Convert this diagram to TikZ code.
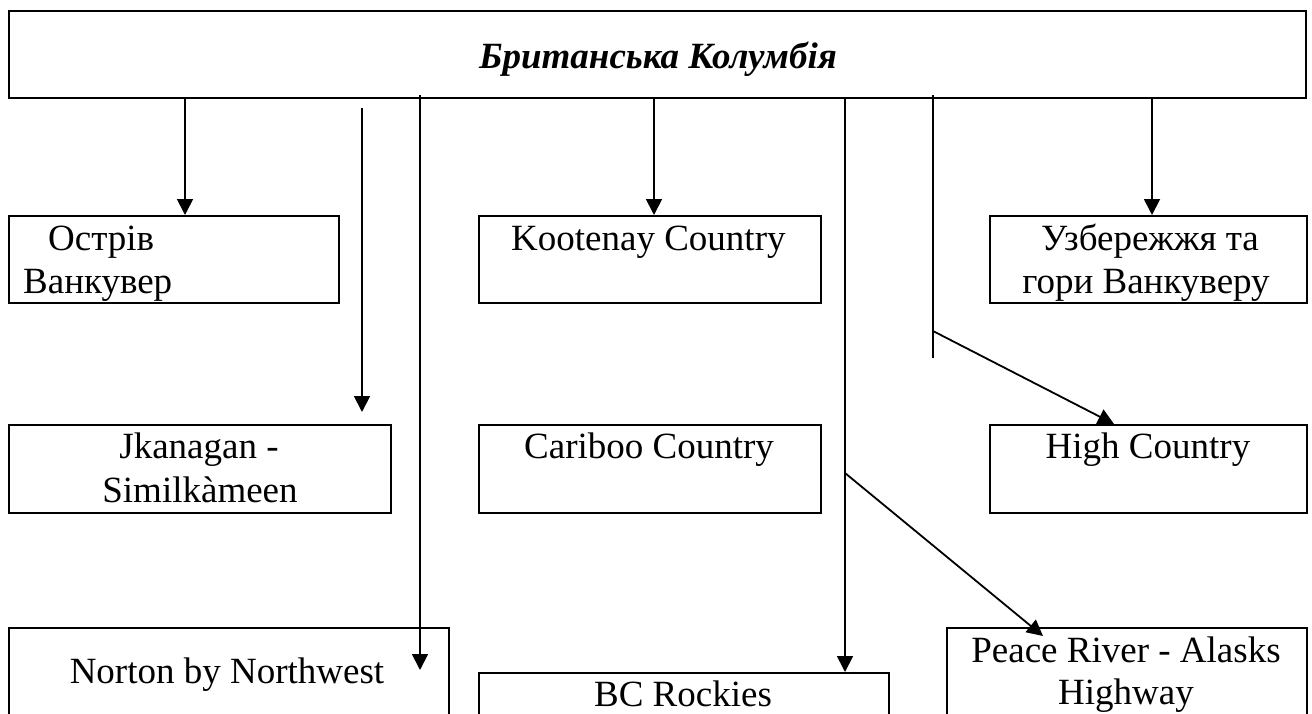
\documentclass[tikz,border=0pt]{standalone}
\usepackage{fontspec}
\setmainfont{Liberation Serif}
\usetikzlibrary{arrows.meta}
\begin{document}
\begin{tikzpicture}[x=1pt,y=-1pt,
  box/.style={draw,line width=2pt,inner sep=0pt,anchor=north west},
  lbl/.style={inner sep=0pt,font=\fontsize{37}{42}\selectfont},
  arr/.style={line width=1.8pt,-{Triangle[width=16pt,length=16pt]}},
  ln/.style={line width=1.8pt}]
\clip (0,0) rectangle (1312,713);
\fill[white] (0,0) rectangle (1312,713);
% boxes
\node[box,minimum width=1297pt,minimum height=87pt] (top) at (8,10) {};
\node[box,minimum width=330pt,minimum height=87pt] (ov) at (8,215) {};
\node[box,minimum width=342pt,minimum height=87pt] (kc) at (478,215) {};
\node[box,minimum width=317pt,minimum height=87pt] (uz) at (989,215) {};
\node[box,minimum width=382pt,minimum height=88pt] (jk) at (8,424) {};
\node[box,minimum width=342pt,minimum height=88pt] (cc) at (478,424) {};
\node[box,minimum width=317pt,minimum height=88pt] (hc) at (989,424) {};
\node[box,minimum width=440pt,minimum height=140pt] (nn) at (8,627) {};
\node[box,minimum width=410pt,minimum height=100pt] (bc) at (478,672) {};
\node[box,minimum width=360pt,minimum height=140pt] (pr) at (946,627) {};
% texts
\node[lbl,anchor=base] (ttitle) at (658,68) {\bfseries\itshape Британська Колумбія};
\node[lbl,anchor=base west] (tov1) at (48,250) {Острів};
\node[lbl,anchor=base west] (tov2) at (23,293) {Ванкувер};
\node[lbl,anchor=base west] (tkc) at (511,250) {Kootenay Country};
\node[lbl,anchor=base] (tuz1) at (1150,250) {Узбережжя та};
\node[lbl,anchor=base] (tuz2) at (1146,293) {гори Ванкуверу};
\node[lbl,anchor=base] (tjk1) at (199,458) {Jkanagan -};
\node[lbl,anchor=base] (tjk2) at (200,502) {Similkàmeen};
\node[lbl,anchor=base west] (tcc) at (524,458) {Cariboo Country};
\node[lbl,anchor=base] (thc) at (1148,458) {High Country};
\node[lbl,anchor=base] (tnn) at (227,683) {Norton by Northwest};
\node[lbl,anchor=base] (tbc) at (683,706) {BC Rockies};
\node[lbl,anchor=base] (tpr1) at (1126,662) {Peace River - Alasks};
\node[lbl,anchor=base] (tpr2) at (1126,704) {Highway};
% coordinates
\coordinate (x1) at (185,0);
\coordinate (x4) at (654,0);
\coordinate (x5) at (845,0);
\coordinate (x7) at (1152,0);
\coordinate (a2s) at (362,108);
\coordinate (a2e) at (362,412);
\coordinate (a3s) at (420,95);
\coordinate (a3e) at (420,670);
\coordinate (b5s) at (845,473);
\coordinate (b5e) at (1043,636);
\coordinate (a6s) at (933,95);
\coordinate (a6e) at (933,358);
\coordinate (b6s) at (933,331);
\coordinate (b6e) at (1114,0);
% connectors
\draw[arr] (top.south -| x1) -- (ov.north -| x1);
\draw[arr] (a2s) -- (a2e);
\draw[arr] (a3s) -- (a3e);
\draw[arr] (top.south -| x4) -- (kc.north -| x4);
\draw[arr] (top.south -| x5) -- (bc.north -| x5);
\draw[arr] (b5s) -- (b5e);
\draw[ln] (a6s) -- (a6e);
\draw[arr] (b6s) -- (hc.north -| b6e);
\draw[arr] (top.south -| x7) -- (uz.north -| x7);
\end{tikzpicture}
\end{document}
